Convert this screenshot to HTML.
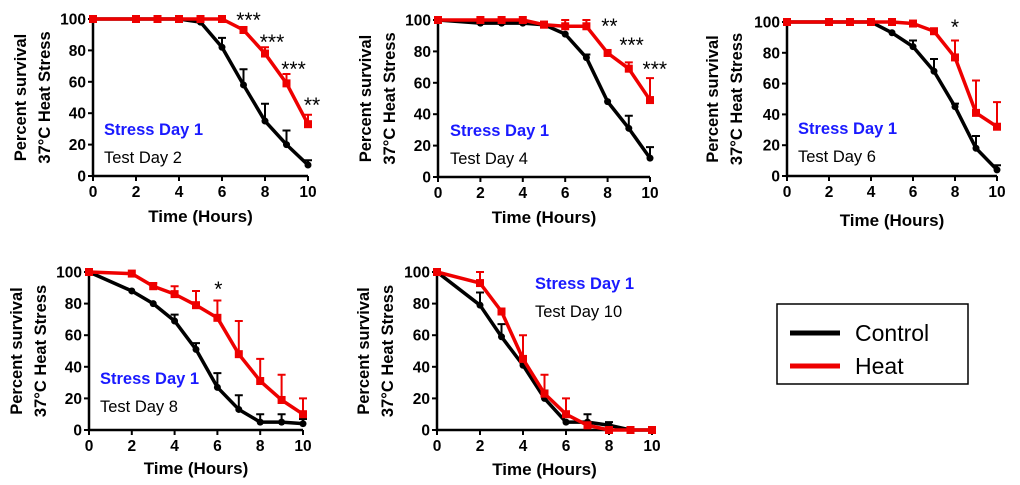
<!DOCTYPE html>
<html><head><meta charset="utf-8"><style>
body{margin:0;background:#fff;width:1020px;height:485px;overflow:hidden}
svg{display:block;font-family:"Liberation Sans",Arial,sans-serif}
</style></head><body>
<svg id="fig" width="1020" height="485">
<g>
<rect x="777" y="304" width="191" height="80" fill="none" stroke="#000" stroke-width="1.5"/>
<line x1="790" y1="333" x2="840" y2="333" stroke="#000" stroke-width="5"/>
<text x="855" y="341" font-size="23">Control</text>
<line x1="790" y1="366" x2="840" y2="366" stroke="#e00" stroke-width="5"/>
<text x="855" y="374" font-size="23">Heat</text>
</g>
</svg>
<script>
const times=[0,2,3,4,5,6,7,8,9,10];
const xTicks=[0,2,4,6,8,10];
const yTicks=[0,20,40,60,80,100];
const testDays=["Test Day 2","Test Day 4","Test Day 6","Test Day 8","Test Day 10"];
const ctrl1=[100,100,100,100,98,82,58,35,20,7], ctrlErr1=[0,0,0,0,0,6,10,11,9,3];
const heat1=[100,100,100,100,100,100,93,78,59,33], heatErr1=[0,0,0,0,0,0,1,4,6,6];
const ctrl2=[100,98,98,98,97,91,76,48,31,12], ctrlErr2=[0,0,0,0,0,0,2,0,8,7];
const heat2=[100,100,100,100,97,96,96,79,69,49], heatErr2=[0,0,0,0,2,4,4,0,4,14];
const ctrl3=[100,100,100,100,93,84,68,45,18,4], ctrlErr3=[0,0,0,0,0,4,8,2,8,3];
const heat3=[100,100,100,100,100,99,94,77,41,32], heatErr3=[0,0,0,0,0,0,0,11,21,16];
const ctrl4=[100,88,80,69,51,27,13,5,5,4], ctrlErr4=[0,0,0,4,4,9,9,5,5,3];
const heat4=[100,99,91,86,79,71,48,31,19,10], heatErr4=[0,0,2,5,9,11,21,14,16,10];
const ctrl5=[100,79,59,41,20,5,5,3,0,0], ctrlErr5=[0,8,8,0,5,0,5,2,0,0];
const heat5=[100,93,75,45,23,10,3,0,0,0], heatErr5=[0,7,0,15,12,10,0,0,0,0];
const sig1=[[7,"***"],[8,"***"],[9,"***"],[10,"**"]];
const sig2=[[7,"**"],[8,"***"],[9,"***"]];
const sig3=[[8,"*"]];
const sig4=[[6,"*"]];
const sig5=[];
const NS="http://www.w3.org/2000/svg";
const svg=document.getElementById('fig');
function mk(tag,attrs,parent,txt){const e=document.createElementNS(NS,tag);for(const k in attrs)e.setAttribute(k,attrs[k]);if(txt!==undefined)e.textContent=txt;parent.appendChild(e);return e;}
const panels=[
 {x0:93,x1:308,yT:19,yB:176,ctrl:ctrl1,ce:ctrlErr1,heat:heat1,he:heatErr1,sig:sig1,sigY:[27,49,76,112],sigDx:[5,7,7,4],lab:[104,135],yl:[20,44],xt:216},
 {x0:438,x1:650,yT:20,yB:177,ctrl:ctrl2,ce:ctrlErr2,heat:heat2,he:heatErr2,sig:sig2,sigY:[33,52,76],sigDx:[23,24,26],lab:[450,136],yl:[365,389],xt:217},
 {x0:787,x1:997,yT:22,yB:176,ctrl:ctrl3,ce:ctrlErr3,heat:heat3,he:heatErr3,sig:sig3,sigY:[34],sigDx:[0],lab:[798,134],yl:[712,736],xt:220},
 {x0:89,x1:303,yT:272,yB:430,ctrl:ctrl4,ce:ctrlErr4,heat:heat4,he:heatErr4,sig:sig4,sigY:[296],sigDx:[1],lab:[100,384],yl:[16,40],xt:468},
 {x0:437,x1:652,yT:272,yB:430,ctrl:ctrl5,ce:ctrlErr5,heat:heat5,he:heatErr5,sig:sig5,sigY:[],sigDx:[],lab:[535,289],yl:[363,387],xt:469}
];
panels.forEach((p,i)=>{
 const g=mk('g',{},svg);
 
 
 const X=v=>p.x0+(p.x1-p.x0)*v/10, Y=v=>p.yB-(p.yB-p.yT)*v/100;
 const ax=mk('path',{d:`M${p.x0} ${p.yT} V${p.yB} H${p.x1}`,stroke:'#000','stroke-width':2.5,fill:'none'},g);
 
 
 yTicks.forEach(t=>{
  mk('line',{x1:p.x0-5,x2:p.x0,y1:Y(t),y2:Y(t),stroke:'#000','stroke-width':2},g);
  const tl=mk('text',{x:p.x0-7,y:Y(t)+5.5,'font-size':15.5,'font-weight':'bold','text-anchor':'end'},g,t);
  
  
 });
 xTicks.forEach(t=>{
  mk('line',{x1:X(t),x2:X(t),y1:p.yB,y2:p.yB+5,stroke:'#000','stroke-width':2},g);
  const tl=mk('text',{x:X(t),y:p.yB+21,'font-size':15.5,'font-weight':'bold','text-anchor':'middle'},g,t);
  
  
 });
 const xt=mk('text',{x:(p.x0+p.x1)/2,y:p.xt+6,'font-size':17,'font-weight':'bold','text-anchor':'middle'},g,'Time (Hours)');
 
 
 const ym=(p.yT+p.yB)/2;
 const y1=mk('text',{x:0,y:0,'font-size':16.5,'font-weight':'bold','text-anchor':'middle',transform:`translate(${p.yl[0]+6},${ym}) rotate(-90)`},g,'Percent survival');
 
 
 const y2=mk('text',{x:0,y:0,'font-size':16.5,'font-weight':'bold','text-anchor':'middle',transform:`translate(${p.yl[1]+6},${ym}) rotate(-90)`},g,'37°C Heat Stress');
 
 
 const s1=mk('text',{x:p.lab[0],y:p.lab[1],'font-size':16.5,'font-weight':'bold',fill:'#1a1aff'},g,'Stress Day 1');
 
 
 const s2=mk('text',{x:p.lab[0],y:p.lab[1]+28,'font-size':16.5},g,testDays[i]);
 
 
 [[p.ctrl,p.ce,'#000','control'],[p.heat,p.he,'#e00','heat']].forEach(([vals,errs,col,nm])=>{
  vals.forEach((v,j)=>{ if(errs[j]>0){
   const eb=mk('path',{d:`M${X(times[j])} ${Y(v)} V${Y(v+errs[j])} M${X(times[j])-4} ${Y(v+errs[j])} H${X(times[j])+4}`,stroke:col,'stroke-width':2,fill:'none'},g);
   
   
  }});
  const ln=mk('polyline',{points:vals.map((v,j)=>X(times[j])+','+Y(v)).join(' '),stroke:col,'stroke-width':3.5,fill:'none','stroke-linejoin':'round'},g);
  
  
  vals.forEach((v,j)=>{
   const m= nm==='heat'? mk('rect',{x:X(times[j])-4,y:Y(v)-4,width:8,height:8,fill:col},g) : mk('circle',{cx:X(times[j]),cy:Y(v),r:3.5,fill:col},g);
   
   
  });
 });
 p.sig.forEach((s,k)=>{
  const st=mk('text',{x:X(s[0])+p.sigDx[k],y:p.sigY[k],'font-size':21,'text-anchor':'middle'},g,s[1]);
  
  
 });
});
</script>
</body></html>
